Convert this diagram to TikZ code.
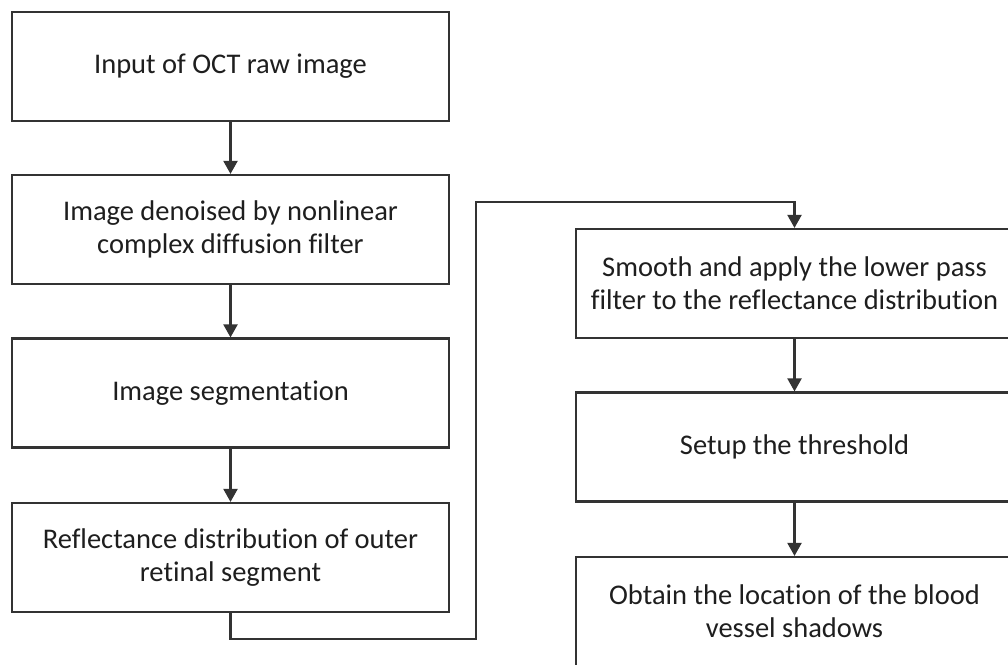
\documentclass[tikz,border=0pt]{standalone}
\usepackage{fontspec}
\setmainfont{Carlito}[Ligatures=NoCommon]
\usetikzlibrary{arrows.meta}
\definecolor{linec}{HTML}{333333}
\definecolor{textc}{HTML}{1E1E1E}
\begin{document}
\begin{tikzpicture}[x=1pt,y=-1pt,
  stepbox/.style={draw=linec, line width=2.2pt, minimum width=437pt, minimum height=109pt,
    inner sep=0pt, align=center, text=textc, font=\fontsize{28.5}{33}\selectfont},
  conn/.style={draw=linec, line width=2.2pt, -{Triangle[width=14pt,length=13pt]}}]
\useasboundingbox (0,0) rectangle (1008,664);
\clip (0,0) rectangle (1008,664);
\fill[white] (0,0) rectangle (1008,664);
\node[stepbox] (b1) at (230.5,66.5) {Input of OCT raw image};
\node[stepbox] (b2) at (230.5,229.5) {Image denoised by nonlinear\\complex diffusion filter};
\node[stepbox] (b3) at (230.5,393) {Image segmentation};
\node[stepbox] (b4) at (230.5,557.5) {Reflectance distribution of outer\\retinal segment};
\node[stepbox] (b5) at (794.5,283.5) {Smooth and apply the lower pass\\filter to the reflectance distribution};
\node[stepbox] (b6) at (794.5,447) {Setup the threshold};
\node[stepbox] (b7) at (794.5,611.5) {Obtain the location of the blood\\vessel shadows};
\coordinate (c1) at (230.5,639);
\coordinate (c2) at (476,639);
\coordinate (c3) at (476,202);
\coordinate (c4) at (794.5,202);
\draw[conn] (b1) -- (b2);
\draw[conn] (b2) -- (b3);
\draw[conn] (b3) -- (b4);
\draw[conn] (b4.south) -- (c1) -- (c2) -- (c3) -- (c4) -- (b5.north);
\draw[conn] (b5) -- (b6);
\draw[conn] (b6) -- (b7);
\end{tikzpicture}
\end{document}
